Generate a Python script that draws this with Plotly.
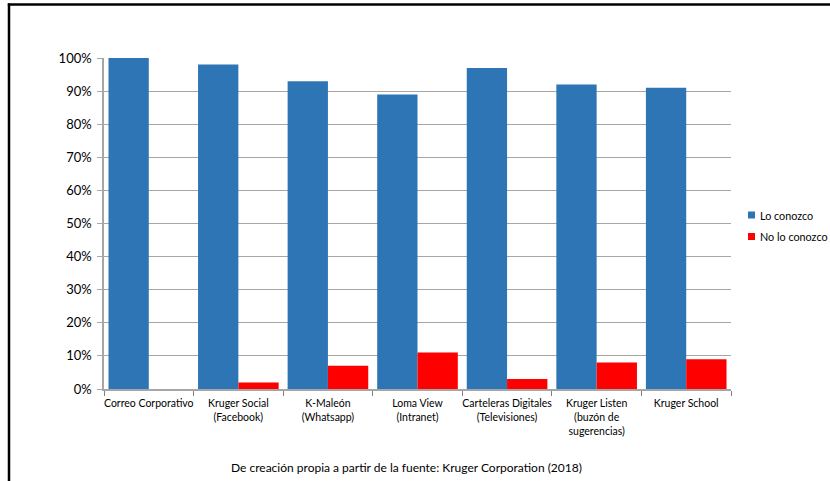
import plotly.graph_objects as go

categories = ["Correo Corporativo", "Kruger Social<br>(Facebook)", "K-Maleón<br>(Whatsapp)",
              "Loma View<br>(Intranet)", "Carteleras Digitales<br>(Televisiones)",
              "Kruger Listen<br>(buzón de<br>sugerencias)", "Kruger School"]
lo_conozco = [1.00, 0.98, 0.93, 0.89, 0.97, 0.92, 0.91]
no_lo_conozco = [0.00, 0.02, 0.07, 0.11, 0.03, 0.08, 0.09]
series_names = ["Lo conozco", "No lo conozco"]
series_colors = ["#2E75B6", "#FF0000"]
y_ticks = [i / 10 for i in range(11)]
y_labels = [f"{i*10}%" for i in range(11)]

W, H = 830, 481
L, R, T, B = 104, 99, 58, 92
pw, ph = W - L - R, H - T - B

def px_x(x):
    return (x - L) / pw

def px_y(y):
    return (H - B - y) / ph

fig = go.Figure()
for vals, name, col in zip([lo_conozco, no_lo_conozco], series_names, series_colors):
    fig.add_trace(go.Bar(x=categories, y=vals, name=name, marker_color=col,
                         marker_line_width=0, showlegend=False))

font = "Lato, 'Open Sans', sans-serif"

shapes = [
    dict(type="line", xref="paper", yref="paper", x0=px_x(9), x1=px_x(9),
         y0=px_y(3.5), y1=px_y(490), line=dict(color="black", width=2.5)),
    dict(type="line", xref="paper", yref="paper", x0=px_x(7.8), x1=px_x(840),
         y0=px_y(4.5), y1=px_y(4.5), line=dict(color="black", width=2.5)),
]
annotations = [
    dict(text="De creación propia a partir de la fuente: Kruger Corporation (2018)",
         xref="paper", yref="paper", x=px_x(406), y=px_y(467), xanchor="center",
         yanchor="middle", showarrow=False, font=dict(size=12)),
]
# manual legend (kept outside the plot area)
for i, (name, col) in enumerate(zip(series_names, series_colors)):
    yc = 215 + i * 21.5
    shapes.append(dict(type="rect", xref="paper", yref="paper",
                       x0=px_x(748), x1=px_x(755), y0=px_y(yc - 3.5), y1=px_y(yc + 3.5),
                       fillcolor=col, line=dict(width=0)))
    annotations.append(dict(text=name, xref="paper", yref="paper", x=px_x(757.5),
                            y=px_y(yc), xanchor="left", yanchor="middle",
                            showarrow=False, font=dict(size=10.8)))

fig.update_layout(
    width=W, height=H,
    margin=dict(l=L, r=R, t=T, b=B, pad=0),
    paper_bgcolor="white", plot_bgcolor="white",
    barmode="group", bargap=0.1, bargroupgap=0,
    font=dict(family=font, size=11, color="#000000"),
    showlegend=False,
    xaxis=dict(showline=True, linecolor="#A6A6A6", linewidth=1.5, ticks="outside",
               tickson="boundaries", ticklen=5, tickcolor="#808080", showgrid=False,
               tickangle=0, tickfont=dict(size=10.5), ticklabelstandoff=4),
    yaxis=dict(range=[0, 1], tickvals=y_ticks, ticktext=y_labels, showline=True,
               linecolor="#A6A6A6", linewidth=1.5, ticks="outside", ticklen=5,
               tickcolor="#A6A6A6", showgrid=True, gridcolor="#A6A6A6", gridwidth=1.2,
               zeroline=False, tickfont=dict(size=13), ticklabelstandoff=3),
    shapes=shapes,
    annotations=annotations,
)

fig.write_html("out.html")
